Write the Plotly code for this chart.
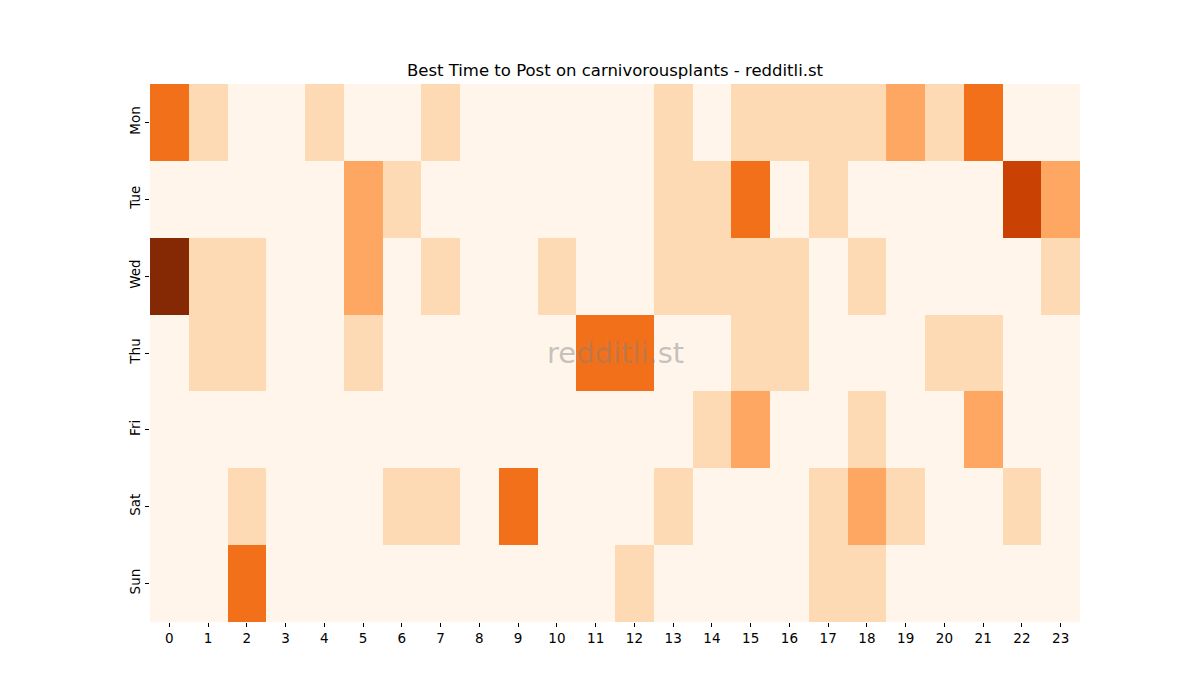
import plotly.graph_objects as go

days = ["Mon", "Tue", "Wed", "Thu", "Fri", "Sat", "Sun"]
hours = list(range(24))

mon = [3, 1, 0, 0, 1, 0, 0, 1, 0, 0, 0, 0, 0, 1, 0, 1, 1, 1, 1, 2, 1, 3, 0, 0]
tue = [0, 0, 0, 0, 0, 2, 1, 0, 0, 0, 0, 0, 0, 1, 1, 3, 0, 1, 0, 0, 0, 0, 4, 2]
wed = [5, 1, 1, 0, 0, 2, 0, 1, 0, 0, 1, 0, 0, 1, 1, 1, 1, 0, 1, 0, 0, 0, 0, 1]
thu = [0, 1, 1, 0, 0, 1, 0, 0, 0, 0, 0, 3, 3, 0, 0, 1, 1, 0, 0, 0, 1, 1, 0, 0]
fri = [0, 0, 0, 0, 0, 0, 0, 0, 0, 0, 0, 0, 0, 0, 1, 2, 0, 0, 1, 0, 0, 2, 0, 0]
sat = [0, 0, 1, 0, 0, 0, 1, 1, 0, 3, 0, 0, 0, 1, 0, 0, 0, 1, 2, 1, 0, 0, 1, 0]
sun = [0, 0, 3, 0, 0, 0, 0, 0, 0, 0, 0, 0, 1, 0, 0, 0, 0, 1, 1, 0, 0, 0, 0, 0]

z = [mon, tue, wed, thu, fri, sat, sun]

colors = ["#fff5eb", "#fdd9b4", "#fda762", "#f3701b", "#c94203", "#842904"]
colorscale = [[i / 5, c] for i, c in enumerate(colors)]

fig = go.Figure(go.Heatmap(
    z=z, x=hours, y=days,
    colorscale=colorscale, zmin=0, zmax=5,
    showscale=False, xgap=0, ygap=0, hoverinfo="skip",
))

fig.update_layout(
    width=1200, height=700,
    margin=dict(l=142, r=128, t=76, b=86),
    paper_bgcolor="white", plot_bgcolor="white",
    font=dict(family="DejaVu Sans", size=13.5, color="black"),
    title=dict(text="Best Time to Post on carnivorousplants - redditli.st",
               x=607 / 1200, xanchor="center", y=1 - 62 / 700, yanchor="middle",
               font=dict(size=16.5)),
    xaxis=dict(tickmode="array", tickvals=hours, ticktext=[str(h) for h in hours],
               ticks="outside", ticklen=4, tickcolor="black", showgrid=False,
               zeroline=False, showline=False, range=[-0.5, 23.5]),
    yaxis=dict(autorange="reversed", ticks="outside", ticklen=4, tickcolor="black",
               tickangle=-90, showgrid=False, zeroline=False, showline=False),
    annotations=[dict(text="redditli.st", x=0.5, y=0.5, xref="paper", yref="paper",
                      showarrow=False, font=dict(size=29, color="rgba(128,128,128,0.45)"))],
)

fig.write_html("out.html")
